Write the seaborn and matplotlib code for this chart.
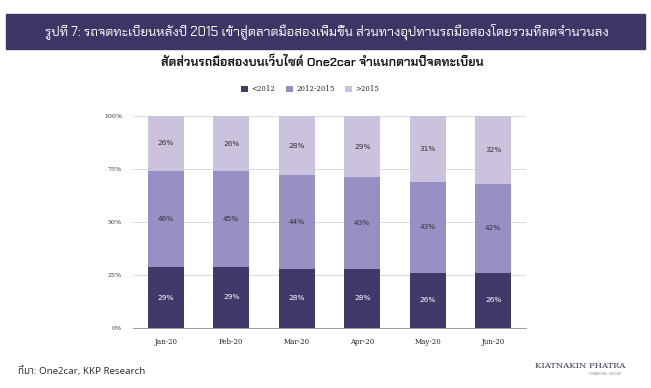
import numpy as np
import pandas as pd
import matplotlib
matplotlib.use("Agg")
import matplotlib.pyplot as plt
import seaborn as sns
from matplotlib import font_manager
from matplotlib.ft2font import FT2Font

months = ["Jan-20", "Feb-20", "Mar-20", "Apr-20", "May-20", "Jun-20"]
series_names = ["<2012", "2012-2015", ">2015"]
pre2012 = [29, 29, 28, 28, 26, 26]
mid2012_2015 = [46, 45, 44, 43, 43, 42]
post2015 = [26, 26, 28, 29, 31, 32]
ytick_labels = ["0%", "25%", "50%", "75%", "100%"]

title = "รูปที่ 7: รถจดทะเบียนหลังปี 2015 เข้าสู่ตลาดมือสองเพิ่มขึ้น ส่วนทางอุปทานรถมือสองโดยรวมที่ลดจำนวนลง"
subtitle = "สัดส่วนรถมือสองบนเว็บไซต์ One2car จำแนกตามปีจดทะเบียน"
source = "ที่มา: One2car, KKP Research"

colors = ["#403a6a", "#9890c4", "#cbc3de"]
header_color = "#3c3667"

sns.set_theme(style="white")

found = set()
for f in font_manager.fontManager.ttflist:
    try:
        cm = FT2Font(f.fname).get_charmap()
    except Exception:
        continue
    if 0x0E2A in cm and 0x0E23 in cm:
        found.add(f.name)


def pick(*names):
    for n in names:
        if n in found:
            return n
    return sorted(found)[0] if found else "DejaVu Sans"


title_font = pick("Chakra Petch", "Bai Jamjuree", "Noto Sans Thai")
body_font = pick("Noto Sans Thai", "Loma", "Sarabun")
plt.rcParams["font.family"] = [title_font, "DejaVu Sans"]

df = pd.DataFrame({"month": months, series_names[0]: pre2012,
                   series_names[1]: mid2012_2015, series_names[2]: post2015})
tot = df[series_names].sum(axis=1)
shares = df[series_names].div(tot, axis=0)

fig = plt.figure(figsize=(6.51, 3.88), dpi=100)
W, H = 651, 388
ax = fig.add_axes([133 / W, 1 - 328 / H, (526 - 133) / W, (328 - 116) / H])

bottom = np.zeros(len(months))
for i, s in enumerate(series_names):
    vals = shares[s].values
    sns.barplot(x=df["month"], y=vals, bottom=bottom, color=colors[i], ax=ax,
                width=0.55, saturation=1, linewidth=0, label=s, zorder=3)
    for j, (v, lab) in enumerate(zip(vals, df[s].values)):
        ax.text(j, bottom[j] + v / 2, f"{lab}%", ha="center", va="center",
                fontsize=5.3, family="DejaVu Sans",
                color="white" if i == 0 else "#333333", zorder=4)
    bottom = bottom + vals

ax.set_ylim(0, 1)
ax.set_xlim(-0.5, len(months) - 0.5)
ax.set_yticks([0, 0.25, 0.5, 0.75, 1.0])
ax.set_yticklabels(ytick_labels, fontsize=4.5, family="DejaVu Serif", color="#333333")
ax.tick_params(axis="y", length=0, pad=8)
ax.tick_params(axis="x", length=0, pad=7)
for lbl in ax.get_xticklabels():
    lbl.set_fontsize(5)
    lbl.set_family("DejaVu Serif")
    lbl.set_color("#222222")
ax.set_xlabel("")
ax.set_ylabel("")
ax.grid(axis="y", color="#d9d9d9", linewidth=0.7, zorder=0)
for sp in ["top", "right", "left"]:
    ax.spines[sp].set_visible(False)
ax.spines["bottom"].set_color("#a0a0a0")
ax.spines["bottom"].set_linewidth(0.8)

handles, labels = ax.get_legend_handles_labels()
ax.legend(handles, labels, loc="center",
          bbox_to_anchor=((310 - 133) / (526 - 133), (328 - 89) / (328 - 116)),
          ncol=3, frameon=False, handlelength=1.0, handleheight=1.0,
          columnspacing=1.5, handletextpad=0.5, prop={"family": "DejaVu Serif", "size": 5})

# header band
fig.patches.append(matplotlib.patches.Rectangle((6 / W, 1 - 49 / H), (645 - 6) / W, 35 / H,
                                                transform=fig.transFigure, color=header_color, zorder=0))
fig.text(327 / W, 1 - 31.5 / H, title, ha="center", va="center", color="white", fontsize=9.5,
         family=[title_font, "DejaVu Sans"])
fig.text(322 / W, 1 - 63 / H, subtitle, ha="center", va="center", color="#111111", fontsize=9,
         fontweight="semibold", family=[title_font, "DejaVu Sans"])
fig.text(18 / W, 1 - 371 / H, source, ha="left", va="center", color="#333333", fontsize=7,
         family=[body_font, "DejaVu Sans"])
fig.text(580 / W, 1 - 366 / H, "KIATNAKIN PHATRA", ha="center", va="center", color="#3a3550",
         fontsize=6, family="DejaVu Serif")
fig.text(621 / W, 1 - 374 / H, "FINANCIAL GROUP", ha="right", va="center", color="#888888",
         fontsize=2.5, family="DejaVu Sans")

fig.savefig("out.png", dpi=100)
